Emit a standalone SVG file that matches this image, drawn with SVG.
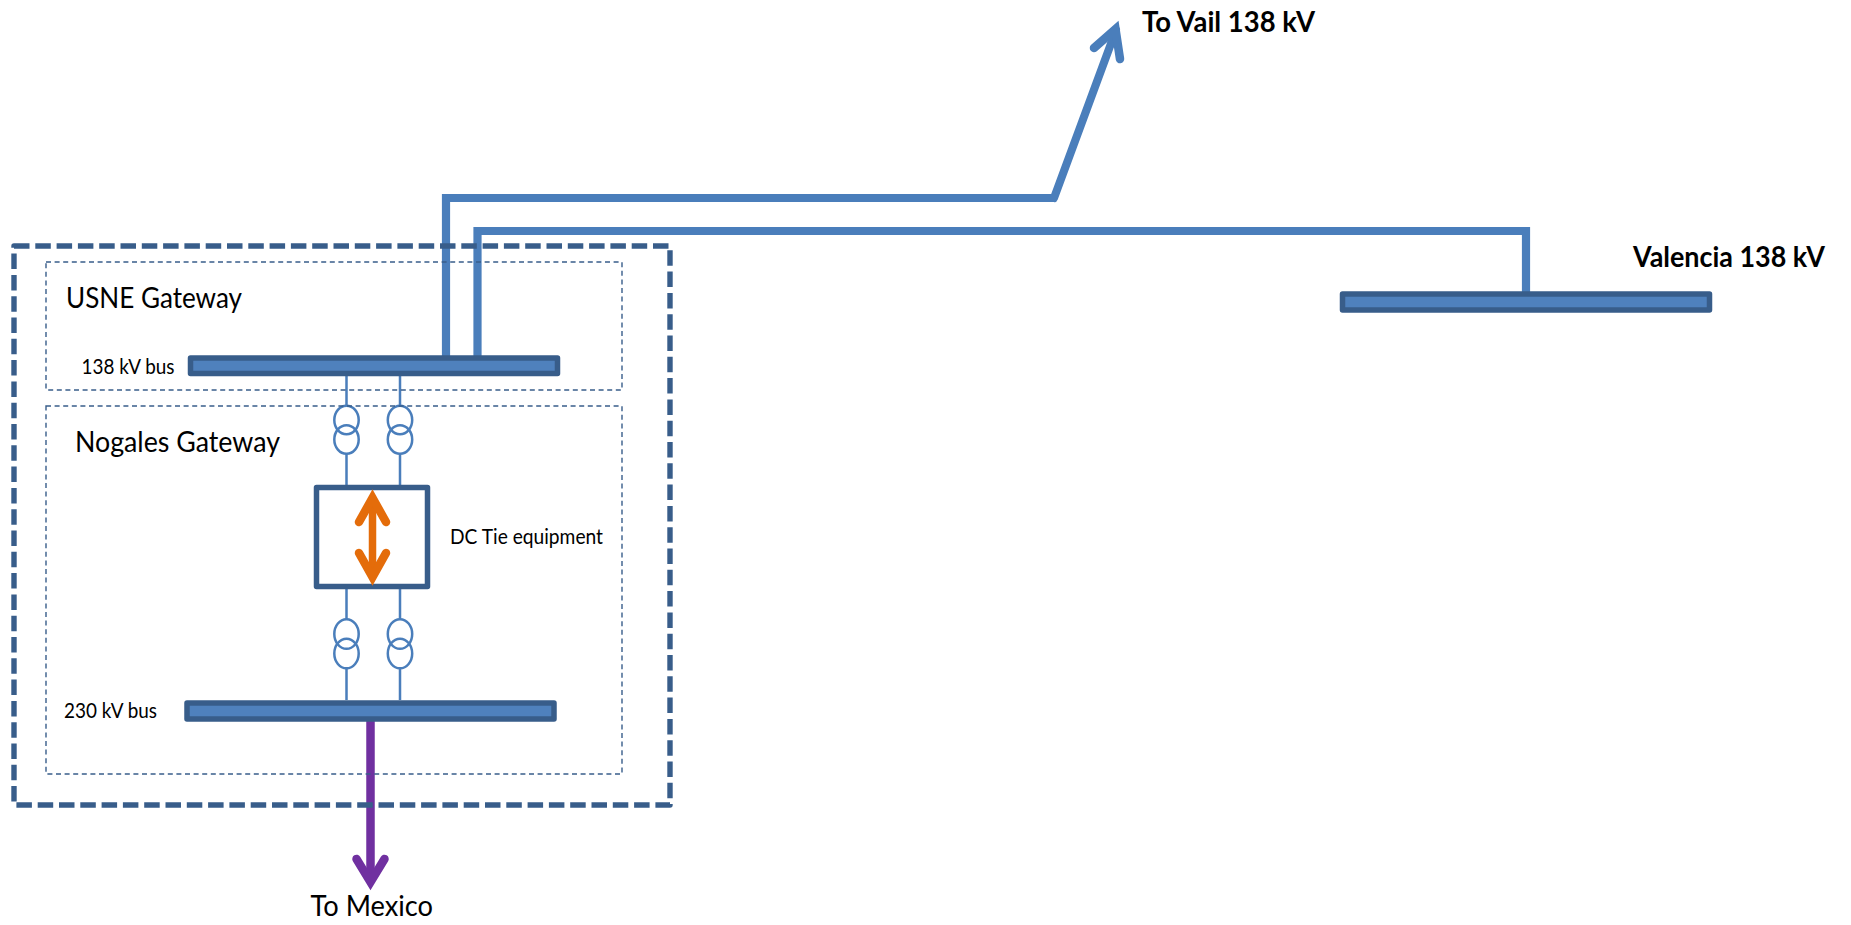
<svg xmlns="http://www.w3.org/2000/svg" width="1851" height="925" viewBox="0 0 1851 925">
<style>
.bus{fill:#4f81bd;stroke:#385d8a;stroke-width:5.5;stroke-linejoin:round}
.hv{fill:none;stroke:#4a7ebb;stroke-width:8.2}
.thin{fill:none;stroke:#4a7ebb;stroke-width:2.5}
.zone{fill:none;stroke:#385d8a;stroke-width:1.4;stroke-dasharray:5 3.6}
.arrow{fill:none;stroke-linecap:round;stroke-linejoin:miter;stroke-miterlimit:10}
text{font-family:Lato,"Open Sans","Liberation Sans",sans-serif;fill:#000}
.big{font-size:28.5px}
.small{font-size:21.500px}
.bold{font-size:28.5px;font-weight:700}
</style>
<rect width="1851" height="925" fill="#fff"/>
<g id="connectors">
<path class="hv" d="M446 356V198H1054"/>
<path class="arrow" stroke="#4a7ebb" stroke-width="8" d="M1054 198L1116 30"/>
<path class="arrow" stroke="#4a7ebb" stroke-width="8.500" d="M1094 48L1115.500 29L1120 59"/>
<path class="hv" d="M477.500 356V231H1526V293"/>
<path class="thin" d="M346.500 376V406M400 376V406M346.500 454V485M400 454V485M346.500 589V619M400 589V619M346.500 668V700M400 668V700"/>
<path fill="none" stroke="#7030a0" stroke-width="8.500" d="M370.500 720V882"/>
<path class="arrow" stroke="#7030a0" stroke-width="8.500" d="M356.500 859L370.500 882L384.500 859"/>
</g>
<g id="bus-138"><rect class="bus" x="190.500" y="358" width="367" height="15.500"/></g>
<g id="bus-230"><rect class="bus" x="187" y="703" width="367" height="16"/></g>
<g id="bus-valencia"><rect class="bus" x="1342.500" y="294" width="367" height="16"/></g>
<g id="transformer-1"><ellipse class="thin" cx="346.500" cy="420" rx="12.200" ry="14.300"/><ellipse class="thin" cx="346.500" cy="439.500" rx="12.200" ry="14.300"/></g>
<g id="transformer-2"><ellipse class="thin" cx="400" cy="420" rx="12.200" ry="14.300"/><ellipse class="thin" cx="400" cy="439.500" rx="12.200" ry="14.300"/></g>
<g id="transformer-3"><ellipse class="thin" cx="346.500" cy="634" rx="12.200" ry="14.800"/><ellipse class="thin" cx="346.500" cy="653.500" rx="12.200" ry="14.800"/></g>
<g id="transformer-4"><ellipse class="thin" cx="400" cy="634" rx="12.200" ry="14.800"/><ellipse class="thin" cx="400" cy="653.500" rx="12.200" ry="14.800"/></g>
<g id="dc-tie">
<rect x="316.500" y="487.500" width="111" height="99" fill="#fff" stroke="#385d8a" stroke-width="5.500" stroke-linejoin="round"/>
<path fill="none" stroke="#e46c0a" stroke-width="7.500" d="M372.500 500V575"/>
<path class="arrow" stroke="#e46c0a" stroke-width="8.500" d="M359 522L372.500 498L386 522"/>
<path class="arrow" stroke="#e46c0a" stroke-width="8.500" d="M359 553L372.500 577L386 553"/>
<text class="small" x="450" y="543.500" textLength="153" lengthAdjust="spacingAndGlyphs">DC Tie equipment</text>
</g>
<g id="usne-gateway">
<rect class="zone" x="46" y="262" width="576" height="128"/>
<text class="big" x="66" y="307.500" textLength="176" lengthAdjust="spacingAndGlyphs">USNE Gateway</text>
<text class="small" x="81.500" y="374" textLength="93" lengthAdjust="spacingAndGlyphs">138 kV bus</text>
</g>
<g id="nogales-gateway">
<rect class="zone" x="46" y="406" width="576" height="368"/>
<text class="big" x="75" y="452" textLength="205" lengthAdjust="spacingAndGlyphs">Nogales Gateway</text>
<text class="small" x="64" y="718" textLength="93" lengthAdjust="spacingAndGlyphs">230 kV bus</text>
</g>
<g id="outer-boundary"><rect x="14" y="246" width="656" height="559" fill="none" stroke="#385d8a" stroke-width="5.400" stroke-dasharray="15.500 5.800" stroke-linejoin="round"/></g>
<g id="labels">
<text class="big" x="310.500" y="916" textLength="122.500" lengthAdjust="spacingAndGlyphs">To Mexico</text>
<text class="bold" x="1142" y="32" textLength="173" lengthAdjust="spacingAndGlyphs">To Vail 138 kV</text>
<text class="bold" x="1633" y="267" textLength="192" lengthAdjust="spacingAndGlyphs">Valencia 138 kV</text>
</g>
</svg>
